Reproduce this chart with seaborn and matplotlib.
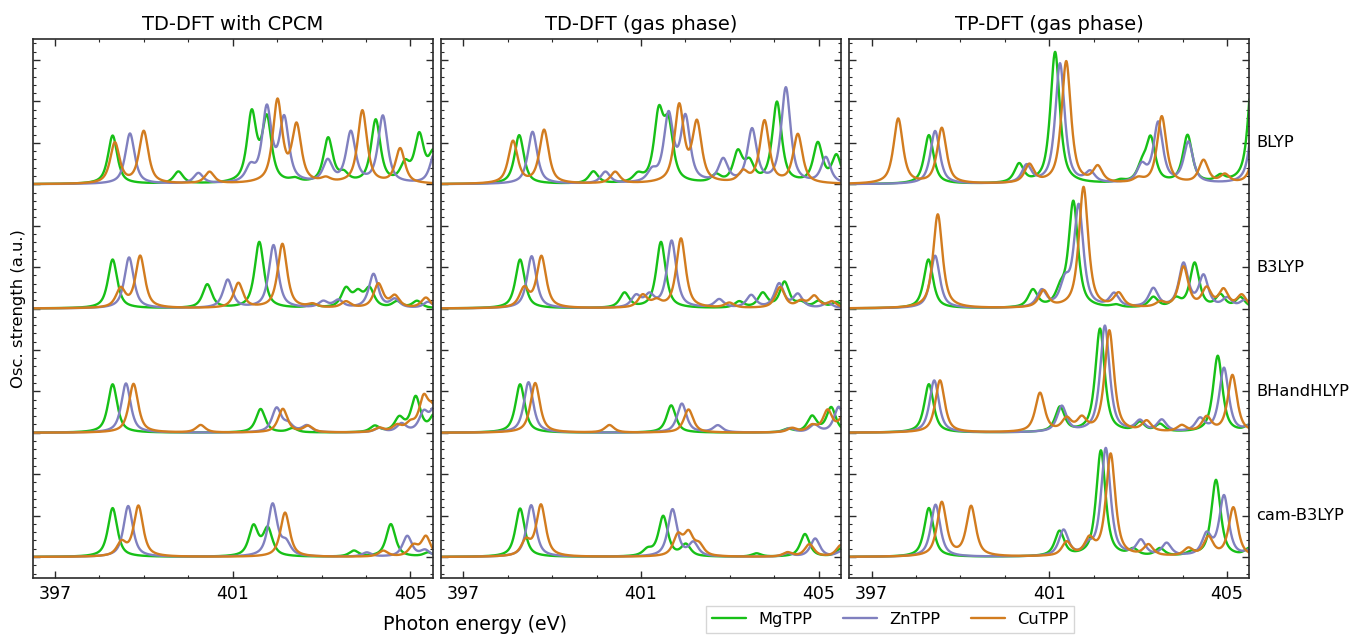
import numpy as np
import pandas as pd
import matplotlib
matplotlib.use("Agg")
import matplotlib.pyplot as plt
from matplotlib.lines import Line2D
from matplotlib.ticker import FixedLocator, MultipleLocator
import seaborn as sns

# stick spectra: (photon energy in eV, osc. strength in a.u.)
# TD-DFT with CPCM
CPCM_BLYP_MG = [(398.30, 1.17), (399.78, 0.29), (401.43, 1.66), (401.77, 1.52), (402.40, 0.08),
                (403.15, 1.08), (403.50, 0.20), (404.22, 1.52), (404.88, 0.42), (405.20, 1.12), (405.52, 0.70)]
CPCM_BLYP_ZN = [(398.69, 1.22), (400.23, 0.25), (401.40, 0.35), (401.77, 1.78), (402.16, 1.52),
                (403.14, 0.52), (403.66, 1.22), (404.38, 1.62), (405.55, 0.75)]
CPCM_BLYP_CU = [(398.35, 0.98), (399.00, 1.26), (400.48, 0.28), (402.01, 1.98), (402.44, 1.36),
                (403.10, 0.10), (403.92, 1.76), (404.77, 0.84)]

CPCM_B3LYP_MG = [(398.30, 1.18), (400.43, 0.57), (401.60, 1.60), (402.80, 0.08), (403.55, 0.45),
                 (403.82, 0.33), (404.08, 0.45), (404.70, 0.15), (405.15, 0.17)]
CPCM_B3LYP_ZN = [(398.67, 1.23), (400.89, 0.68), (401.92, 1.52), (403.04, 0.15), (403.38, 0.18),
                 (404.17, 0.82), (404.65, 0.20), (405.40, 0.15)]
CPCM_B3LYP_CU = [(398.48, 0.45), (398.92, 1.25), (401.13, 0.60), (402.12, 1.55), (402.80, 0.08),
                 (403.55, 0.15), (404.28, 0.58), (404.65, 0.28), (405.35, 0.25)]

CPCM_BHHLYP_MG = [(398.30, 1.17), (401.63, 0.57), (402.35, 0.10), (404.20, 0.15), (404.75, 0.33),
                  (405.12, 0.84), (405.55, 0.42)]
CPCM_BHHLYP_ZN = [(398.60, 1.19), (401.99, 0.58), (402.25, 0.18), (402.67, 0.16), (404.30, 0.10),
                  (404.80, 0.20), (405.30, 0.45), (405.55, 0.55)]
CPCM_BHHLYP_CU = [(398.77, 1.18), (400.28, 0.18), (402.13, 0.57), (402.70, 0.15), (404.30, 0.10),
                  (404.70, 0.15), (405.00, 0.18), (405.30, 0.78), (405.50, 0.50)]

CPCM_CAM_MG = [(398.30, 1.18), (401.47, 0.72), (401.79, 0.66), (403.73, 0.14), (404.56, 0.79), (405.40, 0.10)]
CPCM_CAM_ZN = [(398.65, 1.23), (401.90, 1.26), (402.20, 0.30), (404.02, 0.10), (404.93, 0.50), (405.33, 0.15)]
CPCM_CAM_CU = [(398.50, 0.32), (398.88, 1.22), (402.18, 1.07), (404.39, 0.14), (405.07, 0.25), (405.35, 0.48)]

# TD-DFT (gas phase)
GAS_BLYP_MG = [(398.26, 1.18), (399.93, 0.29), (400.93, 0.18), (401.40, 1.60), (401.62, 1.30),
               (402.69, 0.18), (403.18, 0.72), (403.44, 0.45), (404.06, 1.95), (404.98, 0.95), (405.40, 0.65)]
GAS_BLYP_ZN = [(398.56, 1.26), (400.20, 0.28), (401.25, 0.25), (401.62, 1.62), (402.00, 1.55),
               (402.85, 0.55), (403.50, 1.28), (404.26, 2.30), (405.16, 0.62)]
GAS_BLYP_CU = [(398.12, 1.02), (398.82, 1.29), (400.42, 0.28), (401.86, 1.85), (402.26, 1.42),
               (403.30, 0.25), (403.78, 1.50), (404.53, 1.18)]

GAS_B3LYP_MG = [(398.28, 1.18), (400.63, 0.36), (401.45, 1.60), (403.21, 0.15), (403.74, 0.35),
                (404.23, 0.62), (404.60, 0.12), (405.00, 0.16), (405.40, 0.14)]
GAS_B3LYP_ZN = [(398.54, 1.26), (400.89, 0.28), (401.19, 0.28), (401.69, 1.62), (402.76, 0.20),
                (403.48, 0.30), (404.11, 0.58), (404.53, 0.32), (405.20, 0.12)]
GAS_B3LYP_CU = [(398.37, 0.45), (398.76, 1.24), (401.04, 0.30), (401.35, 0.15), (401.90, 1.68),
                (402.99, 0.12), (404.13, 0.50), (404.60, 0.15), (404.90, 0.28), (405.30, 0.15)]

GAS_BHHLYP_MG = [(398.28, 1.17), (401.68, 0.66), (404.30, 0.08), (404.85, 0.38), (405.28, 0.60)]
GAS_BHHLYP_ZN = [(398.47, 1.22), (401.92, 0.70), (402.73, 0.17), (404.35, 0.10), (404.90, 0.18), (405.45, 0.62)]
GAS_BHHLYP_CU = [(398.62, 1.20), (400.29, 0.18), (402.07, 0.56), (404.40, 0.10), (404.85, 0.15),
                 (405.20, 0.52), (405.55, 0.35)]

GAS_CAM_MG = [(398.28, 1.17), (401.15, 0.15), (401.50, 0.97), (402.01, 0.28), (403.60, 0.08),
              (404.69, 0.55), (405.50, 0.20)]
GAS_CAM_ZN = [(398.53, 1.25), (401.71, 1.14), (402.18, 0.32), (404.30, 0.08), (404.92, 0.44), (405.50, 0.12)]
GAS_CAM_CU = [(398.41, 0.35), (398.75, 1.24), (401.83, 0.48), (402.07, 0.52), (402.31, 0.25),
              (404.30, 0.10), (404.79, 0.30), (405.50, 0.28)]

# TP-DFT (gas phase)
TP_BLYP_MG = [(398.29, 1.18), (400.32, 0.45), (401.13, 3.18), (402.60, 0.06), (403.08, 0.35),
              (403.28, 1.05), (404.11, 1.15), (404.85, 0.15), (405.60, 3.30)]
TP_BLYP_ZN = [(398.43, 1.28), (400.49, 0.42), (401.24, 2.90), (401.92, 0.25), (403.08, 0.40),
              (403.45, 1.45), (404.13, 0.98), (405.62, 1.80)]
TP_BLYP_CU = [(397.60, 1.57), (398.58, 1.34), (400.55, 0.44), (401.38, 2.95), (402.09, 0.38),
              (403.00, 0.10), (403.53, 1.62), (404.47, 0.55), (404.95, 0.20), (405.65, 0.90)]

TP_B3LYP_MG = [(398.28, 1.18), (400.63, 0.42), (401.25, 0.35), (401.54, 2.55), (402.50, 0.06),
               (403.34, 0.25), (403.85, 0.20), (404.27, 1.08), (404.85, 0.30), (405.30, 0.25)]
TP_B3LYP_ZN = [(398.43, 1.27), (400.83, 0.40), (401.35, 0.55), (401.66, 2.45), (402.46, 0.32),
               (403.34, 0.45), (404.02, 1.05), (404.47, 0.75), (405.00, 0.22), (405.40, 0.18)]
TP_B3LYP_CU = [(398.49, 2.27), (400.87, 0.40), (401.77, 2.92), (402.56, 0.33), (403.50, 0.12),
               (404.02, 0.98), (404.54, 0.45), (404.92, 0.42), (405.33, 0.30)]

TP_BHHLYP_MG = [(398.29, 1.17), (401.24, 0.60), (402.14, 2.50), (403.04, 0.22), (403.49, 0.18),
                (404.79, 1.85), (405.50, 0.15)]
TP_BHHLYP_ZN = [(398.41, 1.26), (401.28, 0.62), (402.25, 2.57), (403.04, 0.25), (403.53, 0.28),
                (404.39, 0.30), (404.93, 1.55), (405.50, 0.12)]
TP_BHHLYP_CU = [(398.54, 1.26), (400.79, 0.94), (401.39, 0.30), (401.73, 0.30), (402.35, 2.45),
                (403.19, 0.25), (403.98, 0.15), (404.54, 0.35), (405.12, 1.38)]

TP_CAM_MG = [(398.29, 1.18), (401.23, 0.60), (402.16, 2.56), (402.89, 0.15), (403.49, 0.18),
             (404.20, 0.08), (404.75, 1.85), (405.50, 0.18)]
TP_CAM_ZN = [(398.44, 1.26), (401.32, 0.62), (401.88, 0.20), (402.27, 2.60), (403.06, 0.36),
             (403.64, 0.30), (404.54, 0.50), (404.93, 1.45), (405.50, 0.12)]
TP_CAM_CU = [(398.58, 1.30), (399.24, 1.20), (401.39, 0.33), (401.90, 0.38), (402.38, 2.47),
             (403.23, 0.26), (404.13, 0.18), (404.58, 0.45), (405.14, 1.18)]

molecules = ["MgTPP", "ZnTPP", "CuTPP"]
colors = ["#17c017", "#8080bf", "#d27c1f"]
methods = ["BLYP", "B3LYP", "BHandHLYP", "cam-B3LYP"]
panel_titles = ["TD-DFT with CPCM", "TD-DFT (gas phase)", "TP-DFT (gas phase)"]

panels = [
    [[CPCM_BLYP_MG, CPCM_BLYP_ZN, CPCM_BLYP_CU], [CPCM_B3LYP_MG, CPCM_B3LYP_ZN, CPCM_B3LYP_CU],
     [CPCM_BHHLYP_MG, CPCM_BHHLYP_ZN, CPCM_BHHLYP_CU], [CPCM_CAM_MG, CPCM_CAM_ZN, CPCM_CAM_CU]],
    [[GAS_BLYP_MG, GAS_BLYP_ZN, GAS_BLYP_CU], [GAS_B3LYP_MG, GAS_B3LYP_ZN, GAS_B3LYP_CU],
     [GAS_BHHLYP_MG, GAS_BHHLYP_ZN, GAS_BHHLYP_CU], [GAS_CAM_MG, GAS_CAM_ZN, GAS_CAM_CU]],
    [[TP_BLYP_MG, TP_BLYP_ZN, TP_BLYP_CU], [TP_B3LYP_MG, TP_B3LYP_ZN, TP_B3LYP_CU],
     [TP_BHHLYP_MG, TP_BHHLYP_ZN, TP_BHHLYP_CU], [TP_CAM_MG, TP_CAM_ZN, TP_CAM_CU]],
]

# pseudo-voigt broadening of the sticks (mostly lorentzian)
energy = np.linspace(396.5, 405.5, 1801)
hwhm = 0.125
eta = 0.75


def broaden(sticks):
    y = np.zeros_like(energy)
    for e0, h in sticks:
        x = (energy - e0) / hwhm
        y += h * (eta / (1 + x ** 2) + (1 - eta) * np.exp(-np.log(2) * x ** 2))
    return y


frames = []
for p, title in enumerate(panel_titles):
    for m, method in enumerate(methods):
        offset = 3 * (len(methods) - 1 - m)
        for k, mol in enumerate(molecules):
            frames.append(pd.DataFrame({"panel": title, "method": method, "molecule": mol,
                                        "energy": energy, "signal": broaden(panels[p][m][k]) + offset}))
df = pd.concat(frames, ignore_index=True)

sns.set_style("ticks")
plt.rcParams["font.family"] = ["DejaVu Sans"]
plt.rcParams["text.color"] = "black"
plt.rcParams["xtick.labelcolor"] = "black"

fig, axes = plt.subplots(1, 3, figsize=(13.49, 6.35), dpi=100, sharey=True)
fig.subplots_adjust(left=0.0242, right=0.9261, bottom=0.0902, top=0.9381, wspace=0.021)

for ax, title in zip(axes, panel_titles):
    sns.lineplot(data=df[df.panel == title], x="energy", y="signal", hue="molecule",
                 hue_order=molecules, palette=colors, units="method", estimator=None,
                 sort=False, lw=1.7, legend=False, ax=ax)
    ax.set_xlim(396.5, 405.5)
    ax.set_ylim(-0.5, 12.5)
    ax.set_title(title, fontsize=14, pad=7, color="black")
    ax.set_xlabel("")
    ax.set_ylabel("")
    ax.xaxis.set_major_locator(FixedLocator([397, 401, 405]))
    ax.xaxis.set_minor_locator(MultipleLocator(1))
    ax.yaxis.set_major_locator(MultipleLocator(1))
    ax.yaxis.set_minor_locator(MultipleLocator(0.2))
    ax.tick_params(which="both", direction="in", top=True, right=True, labelleft=False, color="#2a2a2a")
    ax.tick_params(which="major", length=5, width=1, labelsize=12.5, pad=5, labelcolor="black")
    ax.tick_params(which="minor", length=2.5, width=0.8)
    for s in ax.spines.values():
        s.set_color("#2a2a2a")
        s.set_linewidth(1.2)

# method labels right of the last panel
for m, method in enumerate(methods):
    offset = 3 * (len(methods) - 1 - m)
    axes[2].text(1.017, offset + 1, method, transform=axes[2].get_yaxis_transform(),
                 ha="left", va="center", fontsize=11.7, color="black")

fig.text(0.352, 0.017, "Photon energy (eV)", ha="center", va="center", fontsize=13.7, color="black")
fig.text(0.0135, 0.514, "Osc. strength (a.u.)", rotation=90, ha="center", va="center",
         fontsize=11.8, color="black")

handles = [Line2D([], [], color=c, lw=1.7) for c in colors]
fig.legend(handles, molecules, loc="center", bbox_to_anchor=(0.6598, 0.0244), ncol=3, fontsize=11.7,
           handlelength=2.1, handletextpad=0.75, columnspacing=1.9, fancybox=False,
           edgecolor="#cccccc", borderpad=0.35)

fig.savefig("out.png", dpi=100)
